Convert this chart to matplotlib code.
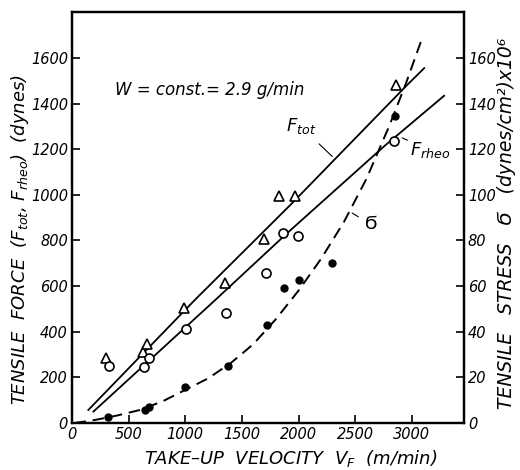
import numpy as np
import matplotlib
matplotlib.use('Agg')
import matplotlib.pyplot as plt

plt.rcParams['font.family'] = ['DejaVu Sans']
plt.rcParams['mathtext.fontset'] = 'dejavusans'

# measured points
tri_x = [301, 625, 661, 985, 1354, 1693, 1832, 1973, 2858]
tri_y = [285, 313, 346, 503, 613, 807, 996, 996, 1482]
circ_x = [330, 640, 684, 1009, 1363, 1717, 1864, 1994, 2844]
circ_y = [251, 247, 286, 411, 484, 657, 832, 820, 1234]
dot_x = [321, 646, 684, 1000, 1375, 1723, 1870, 2003, 2298, 2850]
dot_y = [28, 57, 72, 159, 251, 430, 591, 627, 703, 1346]

# curves
ftot_x = [144, 1088, 1929, 2961, 3110]
ftot_y = [57, 541, 956, 1482, 1555]
frheo_x = [189, 1265, 1900, 2755, 3286]
frheo_y = [50, 539, 832, 1212, 1434]
sig_x = [20, 200, 400, 600, 800, 1000, 1200, 1400, 1600, 1800, 2000, 2200,
         2400, 2600, 2800, 2950, 3080]
sig_y = [0, 13, 33, 57, 95, 145, 195, 262, 345, 455, 580, 720,
         880, 1070, 1300, 1490, 1670]

fig = plt.figure(figsize=(5.2, 4.7), dpi=100)
ax = fig.add_axes([0.1385, 0.1, 0.7535, 0.874])

ax.plot(ftot_x, ftot_y, color='k', lw=1.3)
ax.plot(frheo_x, frheo_y, color='k', lw=1.3)
ax.plot(sig_x, sig_y, color='k', lw=1.4, dashes=(6, 3.5))

ax.plot(tri_x, tri_y, '^', ms=7.5, mfc='white', mec='k', mew=1.2, ls='none')
ax.plot(circ_x, circ_y, 'o', ms=6.5, mfc='white', mec='k', mew=1.2, ls='none')
ax.plot(dot_x, dot_y, 'o', ms=5, color='k', ls='none')

ax.set_xlim(0, 3460)
ax.set_ylim(0, 1800)
ax.set_xticks([0, 500, 1000, 1500, 2000, 2500, 3000])
ax.set_yticks(range(0, 1601, 200))
ax.tick_params(direction='in', length=6, width=1.2, labelsize=10.5, pad=3)
for lab in ax.get_xticklabels() + ax.get_yticklabels():
    lab.set_fontstyle('italic')
for sp in ax.spines.values():
    sp.set_linewidth(1.6)

ax2 = ax.twinx()
ax2.set_ylim(0, 180)
ax2.set_yticks(range(0, 161, 20))
ax2.tick_params(direction='in', length=6, width=1.2, labelsize=10.5, pad=3)
for lab in ax2.get_yticklabels():
    lab.set_fontstyle('italic')
for sp in ax2.spines.values():
    sp.set_linewidth(1.6)

ax.text(380, 1460, 'W = const.= 2.9 g/min', fontsize=12, style='italic', va='center')

ax.annotate('$F_{tot}$', xy=(2298, 1168), xytext=(2020, 1300), fontsize=13,
            ha='center', va='center',
            arrowprops=dict(arrowstyle='-', lw=0.8, color='k', shrinkA=5, shrinkB=0))
ax.annotate('$F_{rheo}$', xy=(2917, 1249), xytext=(3165, 1195), fontsize=13,
            ha='center', va='center',
            arrowprops=dict(arrowstyle='-', lw=0.8, color='k', shrinkA=14, shrinkB=0))
ax.annotate('Ϭ', xy=(2474, 920), xytext=(2640, 870), fontsize=13,
            ha='center', va='center',
            arrowprops=dict(arrowstyle='-', lw=0.8, color='k', shrinkA=3, shrinkB=0))

fig.text(0.038, 0.49, 'TENSILE  FORCE  ($F_{tot}$, $F_{rheo}$)  (dynes)',
         rotation=90, ha='center', va='center', fontsize=13, style='italic')
fig.text(0.975, 0.525, 'TENSILE   STRESS   Ϭ   (dynes/cm²)x10⁶',
         rotation=90, ha='center', va='center', fontsize=13.5, style='italic')
fig.text(0.56, 0.025, 'TAKE–UP  VELOCITY  $V_F$  (m/min)',
         ha='center', va='center', fontsize=13, style='italic')

fig.savefig('out.png', dpi=100)
